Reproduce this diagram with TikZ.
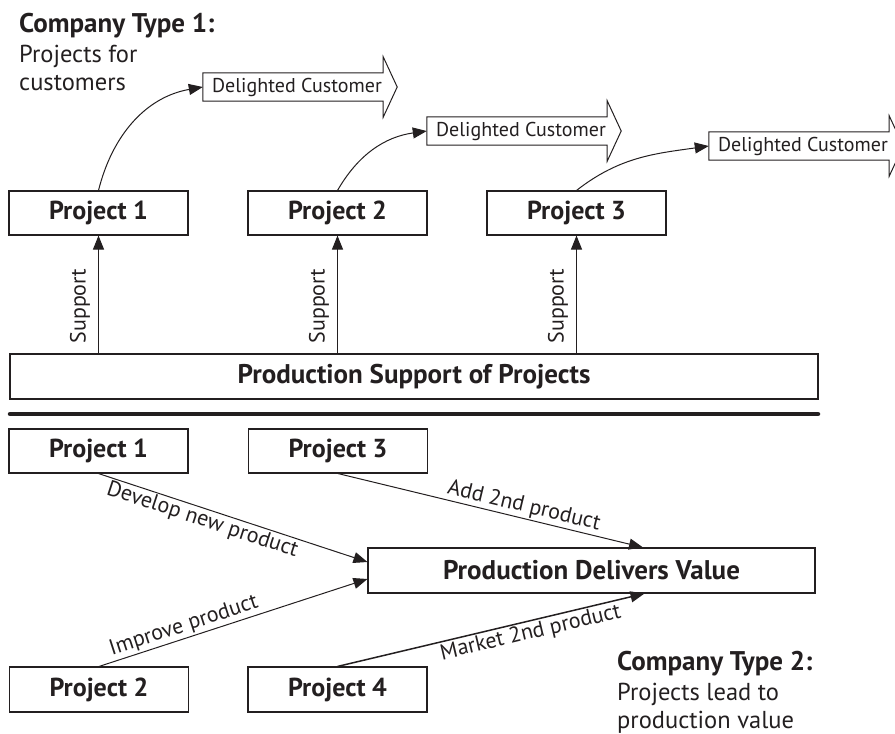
\documentclass[tikz,border=0pt]{standalone}
\usepackage{fontspec}
\setmainfont{PT Sans}
\usetikzlibrary{arrows.meta}
\definecolor{ink}{HTML}{231F20}
% outline of a right-pointing banner arrow drawn around a text node
\newcommand\bannerline[1]{%
  \draw[outl] (#1.south west) -- (#1.north west) -- (#1.north east)
    -- ([yshift=16pt]#1.north east) -- ([xshift=14pt]#1.east)
    -- ([yshift=-16pt]#1.south east) -- (#1.south east) -- cycle;}
\begin{document}
\begin{tikzpicture}[x=1pt,y=-1pt,
  every node/.style={text=ink},
  pbox/.style={draw=ink, line width=1.1pt, minimum width=179pt, minimum height=44pt,
    inner sep=0pt, font=\fontsize{26}{30}\selectfont\bfseries},
  bigbox/.style={pbox, minimum height=45pt, font=\fontsize{27}{30}\selectfont\bfseries},
  banner/.style={minimum width=180pt, minimum height=28pt, inner sep=0pt,
    font=\fontsize{20}{24}\selectfont},
  outl/.style={draw=ink, line width=1pt, line join=miter},
  conn/.style={draw=ink, line width=1pt, -{Triangle[length=14pt,width=11pt]}},
  lab/.style={font=\fontsize{22}{26}\selectfont, inner sep=1.5pt, sloped},
  sup/.style={font=\fontsize{22}{24}\selectfont, rotate=90, inner sep=0pt},
  ttl/.style={anchor=base west, inner sep=0pt, font=\fontsize{24.5}{29}\selectfont},
  ttlb/.style={anchor=base west, inner sep=0pt, font=\fontsize{27}{29}\selectfont\bfseries},
  sep/.style={draw=ink, line width=4.5pt, line cap=round},
]
\useasboundingbox (0,0) rectangle (895,734);
\clip (0,0) rectangle (895,734);

% ---------- company type 1 ----------
\node[ttlb] (c1a) at (19,32) {Company Type 1:};
\node[ttl]  (c1b) at (19,62) {Projects for};
\node[ttl]  (c1c) at (19,90) {customers};

\node[banner] (d1) at (293,87)  {\hspace*{8pt}Delighted Customer};
\node[banner] (d2) at (517,131) {\hspace*{8pt}Delighted Customer};
\node[banner] (d3) at (799,146) {\hspace*{8pt}Delighted Customer};
\bannerline{d1}
\bannerline{d2}
\bannerline{d3}

\node[pbox] (tp1) at (98.5,213) {Project 1};
\node[pbox] (tp2) at (337.5,213) {Project 2};
\node[pbox] (tp3) at (576.5,213) {Project 3};

\draw[conn] (tp1.north) to[out=76,in=190] (d1.west);
\draw[conn] (tp2.north) to[out=60,in=188] (d2.west);
\draw[conn] (tp3.north) to[out=38,in=188] (d3.west);

\node[bigbox, minimum width=808pt] (ps) at (414,376.5)
  {Production Support of Projects};

\draw[conn] (tp1.south |- ps.north) -- (tp1.south);
\draw[conn] (tp2.south |- ps.north) -- (tp2.south);
\draw[conn] (tp3.south |- ps.north) -- (tp3.south);
\node[sup] (s1) at (80,306)  {Support};
\node[sup] (s2) at (319,306) {Support};
\node[sup] (s3) at (558,306) {Support};

% ---------- divider ----------
\draw[sep] (10,414) -- (818,414);

% ---------- company type 2 ----------
\node[pbox] (lp1) at (98.5,451)   {Project 1};
\node[pbox] (lp3) at (338,451)    {Project 3};
\node[bigbox, minimum width=447pt] (pdv) at (591.5,570.5)
  {Production Delivers Value};
\node[pbox, minimum height=45pt] (lp2) at (99,689.5)  {Project 2};
\node[pbox, minimum height=45pt] (lp4) at (337.5,689.5) {Project 4};

\draw[conn] (lp1.south) -- ([yshift=8.5pt]pdv.west)
  node[lab, below, pos=0.4] {Develop new product};
\draw[conn] (lp3.south) -- ([xshift=51.5pt]pdv.north)
  node[lab, above, pos=0.6] {Add 2nd product};
\draw[conn] (lp2.north) -- ([yshift=-8.5pt]pdv.west)
  node[lab, above, pos=0.33] {Improve product};
\draw[conn, line width=1.5pt] (lp4.north) -- ([xshift=53pt]pdv.south)
  node[lab, below, pos=0.62] {Market 2nd product};

\node[ttlb] (c2a) at (617,670) {Company Type 2:};
\node[ttl]  (c2b) at (617,700) {Projects lead to};
\node[ttl]  (c2c) at (617,728) {production value};
\end{tikzpicture}
\end{document}
